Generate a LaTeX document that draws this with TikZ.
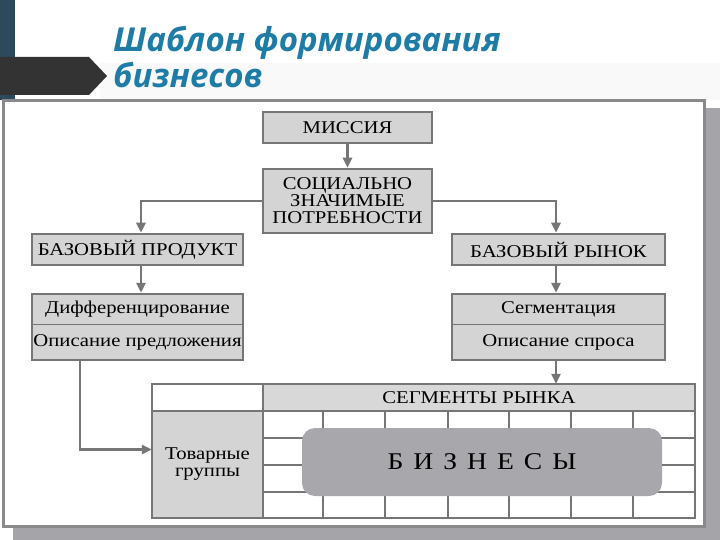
\documentclass[tikz,border=0pt]{standalone}
\usepackage{fontspec}
\setmainfont{Liberation Serif}
\newfontfamily\dfont[FakeStretch=1.15]{Liberation Serif}
\newfontfamily\titlefont{Open Sans}
\usetikzlibrary{arrows.meta,calc}
\definecolor{ttl}{RGB}{30,124,166}
\definecolor{edge}{RGB}{118,118,118}
\definecolor{boxfill}{RGB}{212,212,212}
\definecolor{hdrfill}{RGB}{216,216,216}
\definecolor{bizfill}{RGB}{168,168,172}
\definecolor{shadowc}{RGB}{165,165,169}
\definecolor{framec}{RGB}{138,138,140}
\definecolor{darkbar}{RGB}{44,74,92}
\definecolor{arrowblk}{RGB}{51,51,51}
\begin{document}
\begin{tikzpicture}[x=1pt,y=-1pt,
  box/.style={draw=edge,line width=2.5pt,fill=boxfill,inner sep=0pt},
  txt/.style={inner sep=0pt,font=\dfont\fontsize{18}{17}\selectfont,align=center},
  conn/.style={draw=edge,line width=2.5pt,-{Triangle[length=10pt,width=9pt]}},
  grid/.style={draw=edge,line width=2pt},
  ttlstyle/.style={anchor=base west,inner sep=0pt,text=ttl,font=\titlefont\bfseries\itshape\fontsize{33}{35}\selectfont},
]
\useasboundingbox (0,0) rectangle (720,540);
% slide decoration
\fill[darkbar] (0,0) rectangle (15,100);
\fill[gray!5] (100,63) rectangle (720,100);
\fill[arrowblk] (0,57) -- (89,57) -- (107,76) -- (89,95) -- (0,95) -- cycle;
\node[ttlstyle] (t1) at (113,52) {Шаблон формирования};
\node[ttlstyle] (t2) at (113,88) {бизнесов};
% frame with shadow
\fill[shadowc] (13,108) rectangle (720,540);
\draw[draw=framec,fill=white,line width=3pt] (3,101) rectangle (704,526);
% boxes
\node[box,minimum width=169pt,minimum height=31pt] (mis) at (347.5,127.5) {};
\node[txt] at (mis) {МИССИЯ};
\node[box,minimum width=169pt,minimum height=64pt] (soc) at (347.5,201) {};
\node[txt] at (soc) {СОЦИАЛЬНО\\ЗНАЧИМЫЕ\\ПОТРЕБНОСТИ};
\node[box,minimum width=211pt,minimum height=31pt] (prod) at (137.5,249.5) {};
\node[txt] at (prod) {БАЗОВЫЙ ПРОДУКТ};
\node[box,minimum width=213pt,minimum height=31pt] (mkt) at (558.5,249.5) {};
\node[txt] at (mkt) {БАЗОВЫЙ РЫНОК};
\node[box,minimum width=211pt,minimum height=66pt] (lbox) at (137.5,327) {};
\draw[edge,line width=1pt] (32,324) -- (243,324);
\node[txt] (dif) at (137.5,309) {Дифференцирование};
\node[txt] (opp) at (137.5,342) {Описание предложения};
\node[box,minimum width=213pt,minimum height=66pt] (rbox) at (558.5,327) {};
\draw[edge,line width=1pt] (452,324) -- (665,324);
\node[txt] (sgm) at (558.5,309) {Сегментация};
\node[txt] (dsc) at (558.5,342) {Описание спроса};
% table
\node[fill=hdrfill,minimum width=432pt,minimum height=27pt,inner sep=0pt] (seg) at (479,397.5) {};
\node[txt] at (seg) {СЕГМЕНТЫ РЫНКА};
\node[fill=boxfill,minimum width=111pt,minimum height=107pt,inner sep=0pt] (tov) at (207.5,464.5) {};
\node[txt] at (tov) {Товарные\\группы};
\foreach \x in {323,385,448,509,571,633} \draw[grid] (\x,411) -- (\x,518);
\foreach \y in {438,465,492} \draw[grid] (263,\y) -- (695,\y);
\draw[grid,line width=2.5pt] (152,384) rectangle (695,518);
\draw[grid,line width=2.5pt] (263,384) -- (263,518);
\draw[grid,line width=2.5pt] (152,411) -- (695,411);
\node[fill=bizfill,rounded corners=13pt,minimum width=360pt,minimum height=68pt,inner sep=0pt] (biz) at (482,462) {};
\node[inner sep=0pt,font=\dfont\fontsize{24}{26}\selectfont] at (biz) {\spaceskip=10pt Б И З Н Е С Ы};
% connectors
\draw[conn] (mis.south) -- (soc.north);
\draw[conn] (soc.west) -| ([xshift=3.5pt]prod.north);
\draw[conn] (soc.east) -| ([xshift=-2.5pt]mkt.north);
\draw[conn] ([xshift=3.5pt]prod.south) -- ([xshift=3.5pt]lbox.north);
\draw[conn] ([xshift=-2.5pt]mkt.south) -- ([xshift=-2.5pt]rbox.north);
\draw[conn] ([xshift=-57.5pt]lbox.south) |- ([yshift=15pt]tov.west);
\draw[conn] ([xshift=-2.5pt]rbox.south) -- ([xshift=-2.5pt]rbox.south |- seg.north);
\end{tikzpicture}
\end{document}
